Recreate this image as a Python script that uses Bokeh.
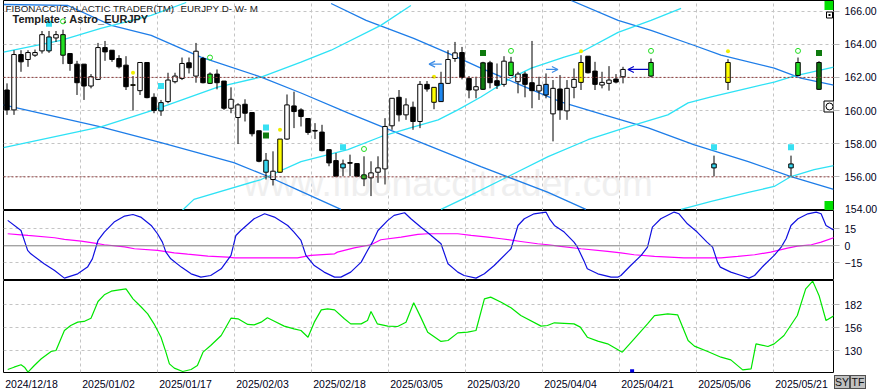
from bokeh.plotting import figure
from bokeh.layouts import column
from bokeh.models import (Range1d, FixedTicker, Grid, Label, Arrow, OpenHead, Span, Div,
                          ColumnDataSource, NumeralTickFormatter, CustomJSTickFormatter)
from bokeh.embed import file_html
from bokeh.resources import INLINE

FONT = "Liberation Sans"

# ---------------- data ----------------
date_tick_idx = [0, 11, 22, 33, 44, 55, 66, 77, 88, 99, 110]
date_labels = ["2024/12/18", "2025/01/02", "2025/01/17", "2025/02/03", "2025/02/18",
               "2025/03/05", "2025/03/20", "2025/04/04", "2025/04/21", "2025/05/06", "2025/05/21"]

opens = [161.24,160.04,163.38,163.08,163.34,163.60,163.60,164.38,164.58,163.44,
         162.80,162.80,161.48,161.88,163.80,163.64,163.14,162.74,161.56,161.20,
         162.90,160.80,159.98,160.54,161.74,161.94,162.88,162.08,163.14,161.64,
         162.20,161.78,160.14,159.58,160.38,159.88,158.78,157.00,155.84,156.28,
         158.28,160.28,160.04,159.52,158.80,158.70,157.64,156.98,156.54,156.86,
         156.80,155.88,155.94,156.28,156.48,159.08,160.80,159.74,160.20,159.34,
         161.58,160.50,160.54,161.64,163.14,163.50,161.94,161.24,161.28,162.88,
         161.80,161.58,162.12,161.74,162.20,161.68,161.18,160.94,159.80,161.30,
         159.98,161.40,161.70,163.28,162.38,161.54,161.64,161.90,162.04]
highs = [161.64,163.64,163.64,163.64,163.68,164.80,164.80,164.80,164.88,163.44,
         163.00,162.80,162.20,164.08,164.20,163.64,163.34,163.28,162.08,162.90,
         162.90,161.04,160.64,162.28,162.28,163.20,163.20,164.08,163.24,162.30,
         162.48,161.78,161.40,160.44,160.68,159.88,158.78,157.44,157.54,158.28,
         160.97,161.14,160.14,159.52,159.24,159.14,157.64,157.44,157.04,157.34,
         156.80,157.24,156.94,157.24,159.54,160.74,161.24,160.74,160.54,161.78,
         161.78,161.40,162.34,163.64,164.14,163.84,162.08,162.04,162.94,163.00,
         162.84,163.28,163.24,162.34,162.34,164.20,162.04,162.24,161.84,162.14,
         161.84,162.54,163.34,163.28,162.94,162.34,162.68,162.20,162.64]
lows = [159.74,159.74,162.34,162.64,163.24,163.44,163.48,164.14,162.80,162.40,
        160.94,160.64,161.34,161.84,163.00,162.94,162.54,161.24,160.00,160.94,
        160.74,159.84,159.68,160.44,161.64,161.84,162.24,161.68,161.64,161.60,
        161.28,160.04,159.84,157.98,159.34,158.44,156.88,155.84,155.48,156.24,
        158.24,158.94,159.04,158.54,158.28,157.54,156.64,156.04,156.04,156.04,
        156.00,155.44,154.84,155.64,155.54,158.84,159.34,159.44,158.84,158.94,
        161.14,160.08,160.54,161.60,162.94,161.88,160.74,160.74,161.24,161.34,
        161.30,161.44,162.08,161.04,160.80,160.14,160.64,160.74,158.14,159.44,
        159.44,160.74,161.24,162.24,161.24,161.34,161.20,161.64,161.64]
closes = [160.04,163.38,162.94,163.50,163.50,164.58,164.44,164.58,163.34,162.84,
          161.68,161.48,162.04,163.80,163.54,163.08,162.64,161.44,161.52,162.90,
          160.78,160.00,160.48,161.84,162.08,162.84,162.58,163.58,161.68,162.20,
          161.68,160.14,160.68,160.34,159.84,158.60,156.94,156.28,156.34,158.28,
          160.34,159.94,159.64,158.68,158.76,157.58,156.84,156.04,156.78,156.82,
          156.04,156.12,156.24,156.54,159.04,160.74,159.74,160.34,159.34,161.58,
          161.30,161.40,161.64,163.08,163.48,162.00,161.24,161.44,162.88,161.68,
          161.52,162.98,162.92,162.20,161.58,161.20,161.52,161.58,161.34,160.04,
          161.34,161.88,162.90,162.28,161.58,161.70,161.84,161.72,162.48]
kinds = list("bwbwwwcwgb" "bbwwbbbbyw" "bbcwwwbwbg" "bbwwbbbcwy" "wbbbbbbbcb"
             "bgwwwwbwbw" "byuwwbbwdb" "bwgwbbwuwb" "wwybbwwbw")

proj_idx = [92, 101, 103, 112, 113, 116]
proj_open = [162.08, 156.54, 161.70, 156.54, 162.12, 161.28]
proj_high = [163.14, 157.28, 163.10, 157.28, 163.20, 162.98]
proj_low = [162.00, 156.04, 161.24, 156.04, 162.08, 161.24]
proj_close = [162.90, 156.78, 162.90, 156.78, 162.90, 162.90]
proj_kind = ["g", "c", "y", "c", "g", "d"]

cyan_sq_idx = [6, 22, 37, 48, 101, 112]
cyan_sq_p = [165.24, 161.48, 158.98, 157.78, 157.78, 157.78]
dkgreen_sq_idx = [37, 68, 116]
dkgreen_sq_p = [158.50, 163.48, 163.48]
green_circ_idx = [8, 29, 51, 72, 92, 113]
green_circ_p = [165.38, 163.20, 157.68, 163.60, 163.60, 163.60]
yellow_dot_idx = [18, 39, 61, 82, 103]
yellow_dot_p = [162.28, 158.84, 162.04, 163.58, 163.58]

arrow_from = [62.1, 77.0, 91.6]
arrow_to = [60.3, 78.7, 88.7]
arrow_price = [162.80, 162.48, 162.48]
arrow_color = ["#3C8CE6", "#3C8CE6", "#0000C8"]

level_lines = [162.0, 156.0]
last_price = 162.50

band_b1_x = [-0.5, 8.7, 14.9, 20.6, 27.7, 36.3, 42.0, 48.7, 58.1, 67.7, 77.3, 82.7]
band_b1_p = [166.40, 166.34, 165.14, 164.54, 163.22, 162.02, 161.06, 159.86, 158.24, 156.62, 155.06, 154.04]
band_b2_x = [-0.5, 13.4, 22.0, 32.4, 37.3, 42.0, 47.7]
band_b2_p = [160.34, 159.02, 158.06, 156.86, 156.02, 155.12, 154.04]
band_b3_x = [46.3, 51.3, 58.1, 63.0, 67.7, 73.4, 79.1, 85.3, 91.6, 98.1, 105.9, 112.0, 118.1]
band_b3_p = [166.46, 165.44, 164.36, 163.46, 162.56, 161.54, 160.52, 159.74, 158.96, 157.94, 156.92, 156.02, 155.24]
band_b4_x = [80.6, 87.3, 92.0, 98.1, 102.0, 109.6, 113.4, 118.1]
band_b4_p = [166.64, 165.44, 164.84, 163.94, 163.34, 162.56, 161.96, 161.54]
band_c1_x = [-0.5, 7.7, 13.4, 20.6, 25.6]
band_c1_p = [163.52, 164.24, 164.96, 165.74, 166.52]
band_c2_x = [-0.5, 13.4, 21.0, 30.1, 36.3, 42.0, 46.3, 53.4, 57.7]
band_c2_p = [157.76, 159.02, 160.04, 161.42, 162.02, 162.92, 163.64, 165.14, 166.34]
band_c3_x = [24.9, 26.7, 36.3, 42.0, 48.7, 53.4, 58.1, 61.6, 64.4, 67.7, 72.0, 74.9, 79.6, 82.0, 87.3, 92.0, 96.3]
band_c3_p = [153.92, 154.64, 155.84, 156.92, 157.64, 158.42, 159.02, 159.44, 160.04, 160.82, 161.96, 162.56, 163.22, 163.52, 164.72, 165.44, 166.16]
band_c4_x = [62.0, 65.9, 71.6, 77.3, 83.0, 88.7, 94.4, 97.3, 100.6, 105.9, 109.6, 112.4, 118.1]
band_c4_p = [154.04, 154.82, 156.02, 157.22, 158.24, 159.02, 159.74, 160.46, 160.82, 161.36, 161.72, 162.08, 162.62]
band_c5_x = [96.3, 100.6, 105.9, 109.6, 112.0, 115.3, 118.1]
band_c5_p = [154.04, 154.52, 155.06, 155.42, 156.02, 156.44, 156.68]

osc_x = [0.1,2.0,2.95,3.4,5.3,6.8,8.2,10.1,11.5,12.2,13.0,13.9,15.3,16.8,18.0,19.1,20.6,21.5,22.2,22.7,
         23.4,24.9,26.3,27.7,29.1,30.6,32.0,32.7,33.4,35.3,36.8,38.2,40.1,41.0,42.0,42.7,43.9,45.3,46.8,47.7,
         49.1,50.6,51.5,52.2,53.0,54.4,55.3,56.8,57.7,59.1,60.6,62.0,63.0,64.4,65.3,67.0,68.2,69.6,72.0,73.0,
         73.9,75.3,77.0,77.5,78.2,79.6,81.0,81.5,82.5,82.9,84.4,86.3,87.3,87.7,89.1,90.6,91.5,92.2,93.4,95.3,
         96.0,97.2,98.6,100.0,100.8,101.5,101.9,103.4,104.9,106.0,106.8,108.1,109.6,110.6,111.3,112.0,113.0,114.4,115.6,116.3,
         117.0,118.2]
osc_y = [22.4,13.5,-4.1,-7.1,-15.9,-21.8,-28.5,-24.7,-18.8,-11.5,4.7,12.1,20.9,26.2,27.6,25.3,17.9,10.6,3.2,-5.6,
         -11.5,-18.8,-24.7,-27.6,-26.2,-20.3,-8.5,9.1,13.5,23.8,28.2,25.3,17.9,12.1,4.7,-8.5,-17.4,-23.2,-27.6,-27.6,
         -23.2,-14.4,-4.1,3.2,13.5,22.4,26.8,29.1,23.8,16.5,9.1,1.8,-15.9,-23.2,-26.2,-28.5,-24.7,-17.4,-2.6,17.9,
         23.8,28.2,29.7,23.8,17.9,12.1,3.2,-1.2,-14.4,-20.3,-24.7,-27.6,-27.6,-26.2,-17.4,-8.5,-1.2,16.5,23.8,29.7,
         28.2,19.4,12.1,3.2,-1.2,-14.4,-18.8,-23.2,-26.2,-28.5,-26.2,-17.4,-8.5,-1.2,6.2,17.9,23.8,28.2,29.7,28.2,
         17.9,13.5]
slow_x = [0.1,2.0,3.0,6.8,8.2,10.6,12.5,13.9,16.8,18.2,21.5,23.9,25.8,28.7,31.5,32.5,41.5,43.4,46.8,47.2,
          49.6,52.0,53.4,56.3,58.7,60.1,64.4,66.3,68.7,70.6,73.4,75.8,77.3,79.1,82.0,85.8,87.7,89.6,92.5,96.7,
          102.0,104.4,106.8,109.1,111.5,112.9,114.9,116.3,118.2]
slow_y = [10.6,9.7,9.1,7.1,5.6,4.1,2.4,0.9,-0.9,-2.6,-4.1,-6.2,-7.4,-9.1,-10.0,-10.6,-10.6,-8.5,-7.1,-5.6,
          -1.8,0.9,5.3,7.6,10.0,10.6,10.6,9.1,7.6,6.2,3.8,1.8,0.9,-0.6,-2.6,-5.0,-6.2,-7.9,-9.4,-10.6,
          -10.6,-9.4,-7.9,-5.6,-2.1,-0.3,0.9,3.2,7.4]
green_x = [0.1,1.0,2.0,2.5,3.0,3.9,4.9,6.3,7.0,8.2,9.1,10.1,11.0,12.0,13.0,13.9,14.9,15.8,17.0,18.0,
           19.1,20.1,21.0,22.0,22.7,23.2,23.9,25.1,26.3,27.2,28.0,29.1,30.6,32.0,33.0,34.4,35.3,36.3,37.2,38.2,
           39.6,41.0,42.0,43.0,43.9,44.9,45.8,46.8,48.2,49.1,50.6,51.5,52.0,52.9,54.4,55.8,57.0,58.1,59.1,60.1,
           62.0,63.0,64.4,65.8,67.0,68.2,69.1,70.6,72.0,73.4,76.3,77.2,78.2,81.0,81.9,82.9,84.4,85.8,87.9,89.6,
           91.5,92.5,94.4,95.8,97.3,98.2,100.1,102.0,103.4,105.1,106.3,107.0,108.7,109.6,111.0,112.9,114.1,115.1,116.0,117.0,
           118.2]
green_y = [108.9,111.5,114.2,111.5,105.9,113.4,121.0,129.2,130.4,153.0,158.6,162.4,163.2,166.9,185.8,193.3,197.4,198.6,200.1,188.8,
           180.1,171.8,160.5,145.4,128.5,115.3,110.4,106.6,108.9,113.4,128.5,136.0,147.3,166.9,166.2,159.8,159.4,162.4,167.3,163.5,
           157.9,154.9,153.0,145.4,162.4,176.3,177.5,176.3,166.2,160.5,160.5,164.3,174.5,160.5,157.9,157.5,162.4,184.3,168.1,151.1,
           140.6,141.7,150.3,151.1,153.0,188.8,190.7,185.0,178.6,169.9,157.9,158.6,161.7,160.5,156.8,145.4,140.9,137.9,128.5,143.6,
           160.5,169.9,171.8,170.7,141.7,135.3,129.2,122.8,119.8,108.5,109.7,137.9,134.9,137.9,147.3,169.9,200.1,208.8,192.6,164.3,
           169.9]

price_ticks = [156, 158, 160, 162, 164, 166]
price_grid = [154, 156, 158, 160, 162, 164, 166]
bottom_price_label = 154
osc_ticks = [-15, 0, 15]
green_ticks = [130, 156, 182]
button_labels = ["SY", "TF"]

# ---------------- layout constants ----------------
LEFT, FW, RIGHT = 3, 830, 48
PXB = 7.0
X0 = -0.5
X1 = X0 + FW / PXB
TOP_H, MID_H, BOT_H, AX_H = 210, 70, 92, 18
TOP_Y0, TOP_Y1 = 153.97, 166.64
MID_Y0, MID_Y1 = -30.6, 31.1
BOT_Y0, BOT_Y1 = 105.5, 209.5

def xd(px):
    return X0 + (px - LEFT) / PXB

def yt(py):
    return TOP_Y1 - py * (TOP_Y1 - TOP_Y0) / TOP_H

xr = Range1d(X0, X1)
grid_x = [i - 0.5 for i in date_tick_idx]
GRID_C = "#C4C4C4"
LBL_C = "#000020"

def panel(h, y0, y1, bottom=0, xaxis=False):
    p = figure(x_range=xr, y_range=Range1d(y0, y1), frame_width=FW, frame_height=h,
               min_border_left=LEFT, min_border_right=RIGHT, min_border_top=0,
               min_border_bottom=bottom, x_axis_location="below" if xaxis else None,
               y_axis_location="right", output_backend="svg", toolbar_location=None,
               background_fill_color="white", border_fill_color="white",
               outline_line_color="black", outline_line_width=1)
    p.grid.visible = False
    p.add_layout(Grid(dimension=0, ticker=FixedTicker(ticks=grid_x),
                      grid_line_color=GRID_C, grid_line_dash="3 3"))
    ax = p.yaxis[0]
    ax.axis_line_color = None
    ax.major_tick_in = 0
    ax.major_tick_out = 6
    ax.major_tick_line_color = "#B8B8B8"
    ax.minor_tick_line_color = None
    ax.major_label_standoff = 5
    ax.major_label_text_font = FONT
    ax.major_label_text_font_size = "10.5px"
    ax.major_label_text_color = LBL_C
    return p

KCOL = {"w": "white", "b": "black", "c": "#38D8F2", "g": "#22E022",
        "d": "#0E7A0E", "y": "#FFFF00", "u": "#1E88F0"}

def candles(p, xs, o, h, l, c, k, width=0.64):
    src = ColumnDataSource(dict(
        x=xs, h=h, l=l,
        top=[max(a, b) for a, b in zip(o, c)],
        bot=[min(a, b) for a, b in zip(o, c)],
        fill=[KCOL[q] for q in k]))
    p.segment(x0="x", y0="l", x1="x", y1="h", source=src, line_color="black", line_width=1)
    p.vbar(x="x", top="top", bottom="bot", width=width, source=src,
           fill_color="fill", line_color="black", line_width=1)

# ---------------- top panel ----------------
p1 = panel(TOP_H, TOP_Y0, TOP_Y1)
p1.yaxis[0].ticker = FixedTicker(ticks=price_ticks)
p1.yaxis[0].formatter = NumeralTickFormatter(format="0.00")
p1.add_layout(Grid(dimension=1, ticker=FixedTicker(ticks=price_grid),
                   grid_line_color=GRID_C, grid_line_dash="3 3"))

p1.add_layout(Label(x=xd(243), y=yt(183), text="www.fibonaccitrader.com",
                    text_font=FONT, text_font_size="37px", text_color="#EFEFEF",
                    text_baseline="middle", level="underlay"))

for lv in level_lines:
    p1.add_layout(Span(location=lv, dimension="width", line_color="#8E3C3C",
                       line_dash="2 2", line_width=1))

BLUE_B, CYAN_B = "#1E7DE8", "#2EE2F5"
for bx, bp in [(band_b1_x, band_b1_p), (band_b2_x, band_b2_p), (band_b3_x, band_b3_p), (band_b4_x, band_b4_p)]:
    p1.line(bx, bp, line_color=BLUE_B, line_width=1.3)
for bx, bp in [(band_c1_x, band_c1_p), (band_c2_x, band_c2_p), (band_c3_x, band_c3_p),
               (band_c4_x, band_c4_p), (band_c5_x, band_c5_p)]:
    p1.line(bx, bp, line_color=CYAN_B, line_width=1.3)

candles(p1, list(range(len(opens))), opens, highs, lows, closes, kinds)
candles(p1, proj_idx, proj_open, proj_high, proj_low, proj_close, proj_kind)

p1.scatter(cyan_sq_idx, cyan_sq_p, marker="square", size=6, fill_color="#38E0F2", line_color=None)
p1.scatter(dkgreen_sq_idx, dkgreen_sq_p, marker="square", size=6, fill_color="#0E7A0E", line_color=None)
p1.scatter(green_circ_idx, green_circ_p, marker="circle", size=5, fill_color=None,
           line_color="#22DD22", line_width=1)
p1.scatter(yellow_dot_idx, yellow_dot_p, marker="circle", size=4, fill_color="#EEEE00", line_color=None)

for a, b, pr, col in zip(arrow_from, arrow_to, arrow_price, arrow_color):
    p1.add_layout(Arrow(x_start=a, y_start=pr, x_end=b, y_end=pr, line_color=col, line_width=1.2,
                        end=OpenHead(size=6, line_color=col, line_width=1.2)))

# decorations (panel icons)
p1.scatter([xd(828.5)] * 2, [yt(5), yt(205)], marker="square", size=9,
           fill_color="#00E000", line_color=None)
p1.scatter([xd(829)], [yt(14.5)], marker="square", size=6, fill_color="white", line_color="black")
p1.scatter([xd(829)], [yt(14.5)], marker="square", size=2, fill_color="black", line_color=None)
p1.scatter([xd(829)], [yt(106)], marker="square", size=11, fill_color="white", line_color="black")
p1.scatter([xd(829)], [yt(106)], marker="circle", size=7, fill_color="white", line_color="black")

p1.add_layout(Label(x=xd(5), y=yt(2), text="FIBONACCI/GALACTIC TRADER(TM)", text_baseline="top",
                    text_font=FONT, text_font_size="9.8px", text_color="#202020"))
p1.add_layout(Label(x=xd(180), y=yt(2), text="EURJPY D- W- M", text_baseline="top",
                    text_font=FONT, text_font_size="9.8px", text_color="#202020"))
p1.add_layout(Label(x=xd(12), y=yt(12), text="Template : Astro_EURJPY", text_baseline="top",
                    text_font=FONT, text_font_size="11px", text_font_style="bold", text_color="#202020"))
p1.add_layout(Label(x=X1, y=last_price, x_offset=8, text="%.2f" % last_price, text_baseline="middle",
                    text_font=FONT, text_font_size="10.5px", text_color=LBL_C,
                    background_fill_color="white"))

# ---------------- middle panel ----------------
p2 = panel(MID_H, MID_Y0, MID_Y1)
p2.yaxis[0].ticker = FixedTicker(ticks=osc_ticks)
p2.add_layout(Grid(dimension=1, ticker=FixedTicker(ticks=[t for t in osc_ticks if t != 0]),
                   grid_line_color=GRID_C, grid_line_dash="3 3"))
p2.add_layout(Span(location=0, dimension="width", line_color="#808080", line_width=1))
p2.line(slow_x, slow_y, line_color="#FF00FF", line_width=1.2)
p2.line(osc_x, osc_y, line_color="#1010E0", line_width=1.2)

# ---------------- bottom panel ----------------
p3 = panel(BOT_H, BOT_Y0, BOT_Y1, bottom=AX_H, xaxis=True)
p3.yaxis[0].ticker = FixedTicker(ticks=green_ticks)
p3.add_layout(Grid(dimension=1, ticker=FixedTicker(ticks=green_ticks),
                   grid_line_color=GRID_C, grid_line_dash="3 3"))
p3.line(green_x, green_y, line_color="#00E600", line_width=1.2)
p3.scatter([89.3], [BOT_Y0 + 1.5], marker="square", size=4, fill_color="#0000E0", line_color=None)

xa = p3.xaxis[0]
xa.ticker = FixedTicker(ticks=[i + 3.5 for i in date_tick_idx])
xa.formatter = CustomJSTickFormatter(args=dict(labels=date_labels),
                                     code="const i = Math.round((tick - 3.5) / 11); return (i >= 0 && i < labels.length) ? labels[i] : '';")
xa.axis_line_color = None
xa.major_tick_line_color = None
xa.minor_tick_line_color = None
xa.major_tick_in = 0
xa.major_tick_out = 0
xa.major_label_standoff = 5
xa.major_label_text_font = FONT
xa.major_label_text_font_size = "10.5px"
xa.major_label_text_color = LBL_C

# ---------------- overlay texts outside the plot frames ----------------
btn_style = ("position:absolute;top:0px;box-sizing:border-box;width:16px;height:14px;line-height:12px;"
             "text-align:center;background:#C0C0C0;border:1px solid #505050;color:#101010;"
             "font-family:'Liberation Sans';font-size:10.5px;")
buttons = Div(text="".join('<span style="%sleft:%dpx">%s</span>' % (btn_style, 16 * i, t)
                           for i, t in enumerate(button_labels)),
              width=32, height=14, margin=0,
              styles={"position": "absolute", "left": "834px", "top": "375px"})
low_label = Div(text=('<span style="position:absolute;left:0px;top:0px;white-space:nowrap;'
                      'font-family:\'Liberation Sans\';font-size:10.5px;line-height:12px;color:%s">%.2f</span>'
                      % (LBL_C, bottom_price_label)),
                width=36, height=12, margin=0,
                styles={"position": "absolute", "left": "845px", "top": "203px"})

root = column(p1, p2, p3, buttons, low_label, spacing=0)
root.styles = {"position": "absolute", "left": "0px", "top": "0px"}

open("out.html", "w").write(file_html(root, INLINE))
